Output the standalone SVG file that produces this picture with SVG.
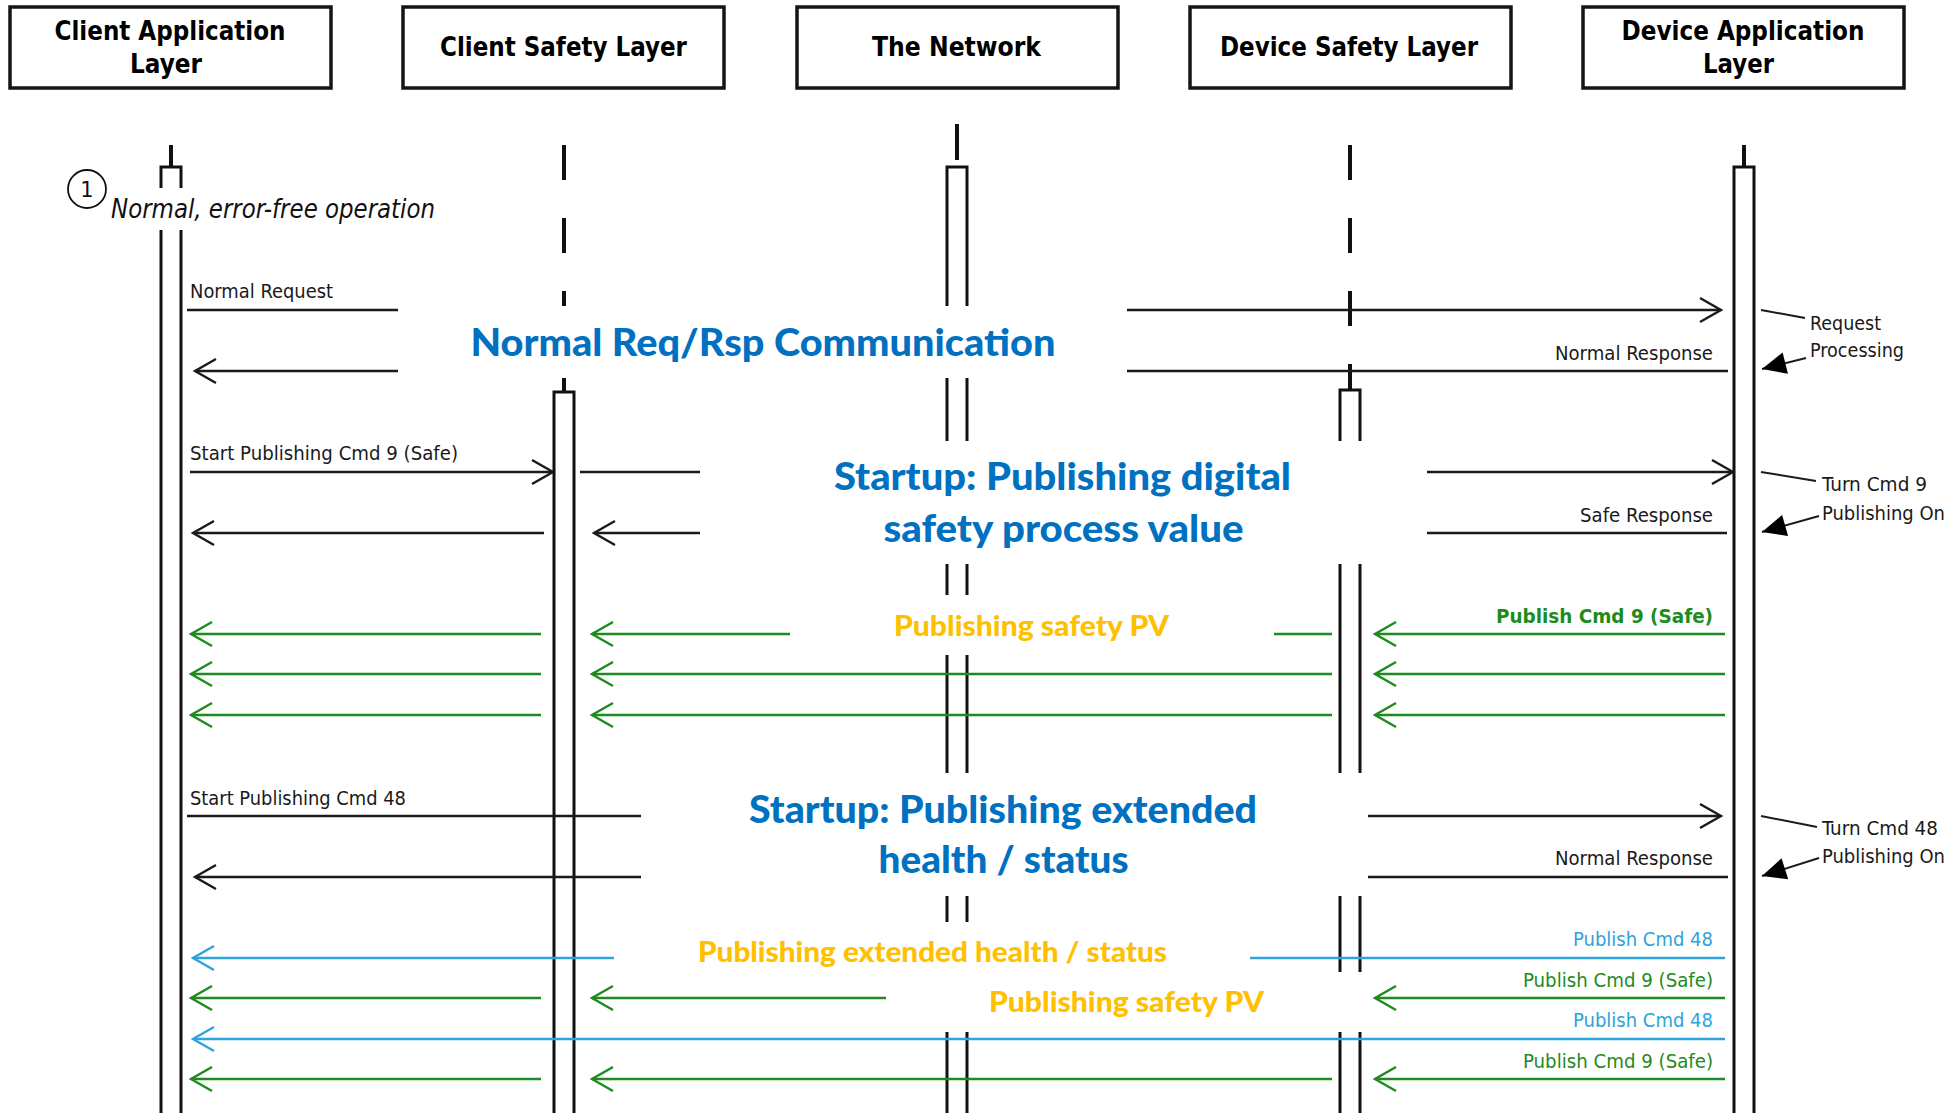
<svg xmlns="http://www.w3.org/2000/svg" width="1951" height="1113" viewBox="0 0 1951 1113">
<style>
.hbox{fill:#fff;stroke:#151515;stroke-width:3.5}
.ht{font-family:"DejaVu Sans Condensed","DejaVu Sans",sans-serif;font-stretch:condensed;font-weight:bold;font-size:27px;fill:#000}
.bar{fill:none;stroke:#111;stroke-width:3}
.stub{stroke:#111;stroke-width:4;fill:none}
.m{fill:none;stroke-width:2.4}
.k{stroke:#1a1a1a}
.g{stroke:#1e8b1e}
.b{stroke:#2ea3dc}
.lbl{font-family:"DejaVu Sans Condensed","DejaVu Sans",sans-serif;font-stretch:condensed;font-size:20px;fill:#1a1a1a}
.lg{fill:#1e8b1e}
.lb{fill:#2ea3dc}
.cov{fill:#fff}
.title{font-family:Lato,"Open Sans",sans-serif;font-weight:900;font-size:37px;fill:#0070c0}
.pub{font-family:Lato,"Open Sans",sans-serif;font-weight:900;font-size:28px;fill:#ffc000}
.note{stroke:#1a1a1a;stroke-width:2;fill:none}
</style>
<defs>
<marker id="ak" markerUnits="userSpaceOnUse" markerWidth="30" markerHeight="30" viewBox="-25 -15 30 30" refX="0" refY="0" orient="auto"><path d="M-21,-12 L0,0 L-21,12" fill="none" stroke="#1a1a1a" stroke-width="2.4"/></marker>
<marker id="ag" markerUnits="userSpaceOnUse" markerWidth="30" markerHeight="30" viewBox="-25 -15 30 30" refX="0" refY="0" orient="auto"><path d="M-21,-12 L0,0 L-21,12" fill="none" stroke="#1e8b1e" stroke-width="2.4"/></marker>
<marker id="ab" markerUnits="userSpaceOnUse" markerWidth="30" markerHeight="30" viewBox="-25 -15 30 30" refX="0" refY="0" orient="auto"><path d="M-21,-12 L0,0 L-21,12" fill="none" stroke="#2ea3dc" stroke-width="2.4"/></marker>
<marker id="af" markerUnits="userSpaceOnUse" markerWidth="32" markerHeight="30" viewBox="-28 -15 32 30" refX="0" refY="0" orient="auto"><path d="M0,0 L-24,-11 L-24,11 Z" fill="#000"/></marker>
</defs>
<rect width="1951" height="1113" fill="#fff"/>

<g id="client-application-layer">
<rect class="hbox" x="10" y="7" width="321" height="81"/>
<text class="ht" x="54.5" y="40" textLength="231" lengthAdjust="spacingAndGlyphs">Client Application</text>
<text class="ht" x="130" y="73" textLength="72" lengthAdjust="spacingAndGlyphs">Layer</text>
<line class="stub" x1="171" y1="145" x2="171" y2="167"/>
<rect class="bar" x="161" y="167" width="20" height="980"/>
</g>

<g id="client-safety-layer">
<rect class="hbox" x="403" y="7" width="321" height="81"/>
<text class="ht" x="440" y="56" textLength="247" lengthAdjust="spacingAndGlyphs">Client Safety Layer</text>
<path class="stub" d="M564,145V180M564,218V253M564,291V326M564,364V392"/>
<rect class="bar" x="554" y="392" width="20" height="760"/>
</g>

<g id="the-network">
<rect class="hbox" x="797" y="7" width="321" height="81"/>
<text class="ht" x="872" y="56" textLength="169" lengthAdjust="spacingAndGlyphs">The Network</text>
<line class="stub" x1="957" y1="124" x2="957" y2="160"/>
<rect class="bar" x="947" y="167" width="20" height="980"/>
</g>

<g id="device-safety-layer">
<rect class="hbox" x="1190" y="7" width="321" height="81"/>
<text class="ht" x="1220" y="56" textLength="258" lengthAdjust="spacingAndGlyphs">Device Safety Layer</text>
<path class="stub" d="M1350,145V180M1350,218V253M1350,291V326M1350,364V390"/>
<rect class="bar" x="1340" y="390" width="20" height="760"/>
</g>

<g id="device-application-layer">
<rect class="hbox" x="1583" y="7" width="321" height="81"/>
<text class="ht" x="1621.5" y="40" textLength="243" lengthAdjust="spacingAndGlyphs">Device Application</text>
<text class="ht" x="1703" y="73" textLength="71" lengthAdjust="spacingAndGlyphs">Layer</text>
<line class="stub" x1="1744" y1="145" x2="1744" y2="167"/>
<rect class="bar" x="1734" y="167" width="20" height="980"/>
</g>

<g id="connectors">
<line class="m k" x1="187" y1="310" x2="1721" y2="310" marker-end="url(#ak)"/>
<text class="lbl" x="190" y="298" textLength="143" lengthAdjust="spacingAndGlyphs">Normal Request</text>
<line class="m k" x1="1728" y1="371" x2="195" y2="371" marker-end="url(#ak)"/>
<text class="lbl" x="1555" y="360" textLength="158" lengthAdjust="spacingAndGlyphs">Normal Response</text>
<line class="m k" x1="190" y1="472" x2="553" y2="472" marker-end="url(#ak)"/>
<text class="lbl" x="190" y="460" textLength="268" lengthAdjust="spacingAndGlyphs">Start Publishing Cmd 9 (Safe)</text>
<line class="m k" x1="580" y1="472" x2="1733" y2="472" marker-end="url(#ak)"/>
<line class="m k" x1="1727" y1="533" x2="594" y2="533" marker-end="url(#ak)"/>
<line class="m k" x1="544" y1="533" x2="193" y2="533" marker-end="url(#ak)"/>
<text class="lbl" x="1580" y="522" textLength="133" lengthAdjust="spacingAndGlyphs">Safe Response</text>
<line class="m g" x1="541" y1="634" x2="191" y2="634" marker-end="url(#ag)"/>
<line class="m g" x1="1332" y1="634" x2="592" y2="634" marker-end="url(#ag)"/>
<line class="m g" x1="1725" y1="634" x2="1375" y2="634" marker-end="url(#ag)"/>
<text class="lbl lg" x="1496" y="623" font-weight="bold" textLength="217" lengthAdjust="spacingAndGlyphs">Publish Cmd 9 (Safe)</text>
<line class="m g" x1="541" y1="674" x2="191" y2="674" marker-end="url(#ag)"/>
<line class="m g" x1="1332" y1="674" x2="592" y2="674" marker-end="url(#ag)"/>
<line class="m g" x1="1725" y1="674" x2="1375" y2="674" marker-end="url(#ag)"/>
<line class="m g" x1="541" y1="715" x2="191" y2="715" marker-end="url(#ag)"/>
<line class="m g" x1="1332" y1="715" x2="592" y2="715" marker-end="url(#ag)"/>
<line class="m g" x1="1725" y1="715" x2="1375" y2="715" marker-end="url(#ag)"/>
<line class="m k" x1="187" y1="816" x2="1721" y2="816" marker-end="url(#ak)"/>
<text class="lbl" x="190" y="805" textLength="216" lengthAdjust="spacingAndGlyphs">Start Publishing Cmd 48</text>
<line class="m k" x1="1728" y1="877" x2="195" y2="877" marker-end="url(#ak)"/>
<text class="lbl" x="1555" y="865" textLength="158" lengthAdjust="spacingAndGlyphs">Normal Response</text>
<line class="m b" x1="1725" y1="958" x2="193" y2="958" marker-end="url(#ab)"/>
<text class="lbl lb" x="1573" y="946" textLength="140" lengthAdjust="spacingAndGlyphs">Publish Cmd 48</text>
<line class="m g" x1="541" y1="998" x2="191" y2="998" marker-end="url(#ag)"/>
<line class="m g" x1="1332" y1="998" x2="592" y2="998" marker-end="url(#ag)"/>
<line class="m g" x1="1725" y1="998" x2="1375" y2="998" marker-end="url(#ag)"/>
<text class="lbl lg" x="1523" y="987" textLength="190" lengthAdjust="spacingAndGlyphs">Publish Cmd 9 (Safe)</text>
<line class="m b" x1="1725" y1="1039" x2="193" y2="1039" marker-end="url(#ab)"/>
<text class="lbl lb" x="1573" y="1027" textLength="140" lengthAdjust="spacingAndGlyphs">Publish Cmd 48</text>
<line class="m g" x1="541" y1="1079" x2="191" y2="1079" marker-end="url(#ag)"/>
<line class="m g" x1="1332" y1="1079" x2="592" y2="1079" marker-end="url(#ag)"/>
<line class="m g" x1="1725" y1="1079" x2="1375" y2="1079" marker-end="url(#ag)"/>
<text class="lbl lg" x="1523" y="1068" textLength="190" lengthAdjust="spacingAndGlyphs">Publish Cmd 9 (Safe)</text>
<line class="note" x1="1761" y1="310" x2="1805" y2="318"/>
<line class="note" x1="1806" y1="358" x2="1762" y2="369" marker-end="url(#af)"/>
<text class="lbl" x="1810" y="330" textLength="71" lengthAdjust="spacingAndGlyphs">Request</text>
<text class="lbl" x="1810" y="357" textLength="94" lengthAdjust="spacingAndGlyphs">Processing</text>
<line class="note" x1="1761" y1="472" x2="1816" y2="481"/>
<line class="note" x1="1819" y1="516" x2="1762" y2="532" marker-end="url(#af)"/>
<text class="lbl" x="1822" y="491" textLength="105" lengthAdjust="spacingAndGlyphs">Turn Cmd 9</text>
<text class="lbl" x="1822" y="520" textLength="123" lengthAdjust="spacingAndGlyphs">Publishing On</text>
<line class="note" x1="1761" y1="816" x2="1817" y2="827"/>
<line class="note" x1="1819" y1="858" x2="1762" y2="876" marker-end="url(#af)"/>
<text class="lbl" x="1822" y="835" textLength="116" lengthAdjust="spacingAndGlyphs">Turn Cmd 48</text>
<text class="lbl" x="1822" y="863" textLength="123" lengthAdjust="spacingAndGlyphs">Publishing On</text>
</g>

<g id="step-note">
<circle cx="87" cy="189" r="19" fill="#fff" stroke="#111" stroke-width="1.8"/>
<text x="87" y="197" text-anchor="middle" font-family="DejaVu Sans,sans-serif" font-size="21" fill="#111">1</text>
<rect class="cov" x="108" y="188" width="334" height="42"/>
<text x="111" y="218" font-family="'DejaVu Sans Condensed','DejaVu Sans',sans-serif" font-stretch="condensed" font-style="italic" font-size="26" fill="#111" textLength="324" lengthAdjust="spacingAndGlyphs">Normal, error-free operation</text>
</g>

<g id="phase-labels">
<rect class="cov" x="398" y="306" width="729" height="72"/>
<text class="title" x="470.5" y="356" textLength="585" lengthAdjust="spacingAndGlyphs">Normal Req/Rsp Communication</text>
<rect class="cov" x="700" y="441" width="727" height="123"/>
<text class="title" x="834" y="490" textLength="457" lengthAdjust="spacingAndGlyphs">Startup: Publishing digital</text>
<text class="title" x="883.5" y="542" textLength="360" lengthAdjust="spacingAndGlyphs">safety process value</text>
<rect class="cov" x="790" y="595" width="484" height="60"/>
<text class="pub" x="894" y="636" textLength="275" lengthAdjust="spacingAndGlyphs">Publishing safety PV</text>
<rect class="cov" x="641" y="773" width="727" height="123"/>
<text class="title" x="749" y="823" textLength="508" lengthAdjust="spacingAndGlyphs">Startup: Publishing extended</text>
<text class="title" x="878.6" y="873" textLength="250" lengthAdjust="spacingAndGlyphs">health / status</text>
<rect class="cov" x="614" y="922" width="636" height="63"/>
<text class="pub" x="698" y="962" textLength="469" lengthAdjust="spacingAndGlyphs">Publishing extended health / status</text>
<rect class="cov" x="886" y="972" width="482" height="60"/>
<text class="pub" x="989" y="1012" textLength="275" lengthAdjust="spacingAndGlyphs">Publishing safety PV</text>
</g>
</svg>
